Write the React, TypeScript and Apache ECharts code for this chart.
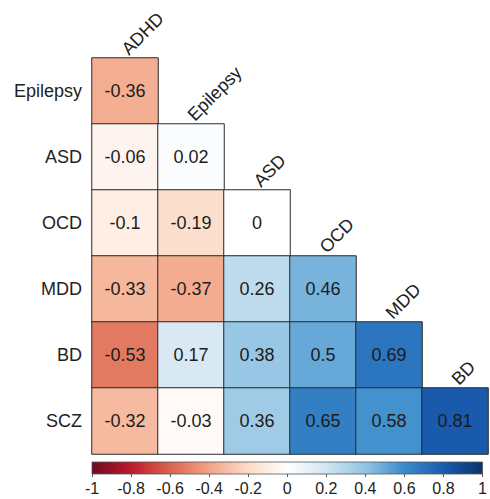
import React, { useEffect, useRef } from "react";
import * as echarts from "echarts";

const rowLabels = ["Epilepsy", "ASD", "OCD", "MDD", "BD", "SCZ"];
const colLabels = ["ADHD", "Epilepsy", "ASD", "OCD", "MDD", "BD"];

const rowEpilepsy = [-0.36];
const rowASD = [-0.06, 0.02];
const rowOCD = [-0.1, -0.19, 0];
const rowMDD = [-0.33, -0.37, 0.26, 0.46];
const rowBD = [-0.53, 0.17, 0.38, 0.5, 0.69];
const rowSCZ = [-0.32, -0.03, 0.36, 0.65, 0.58, 0.81];

const rowValues = [rowEpilepsy, rowASD, rowOCD, rowMDD, rowBD, rowSCZ];

const colorbarTicks = [-1, -0.8, -0.6, -0.4, -0.2, 0, 0.2, 0.4, 0.6, 0.8, 1];

const palette = [
  "#6b0a22",
  "#bc1a2e",
  "#da634f",
  "#f2a486",
  "#fcdcc9",
  "#ffffff",
  "#d2e5f2",
  "#92c4e3",
  "#3a8bcb",
  "#1a5cb0",
  "#0a3266",
];

const FONT = "'Liberation Sans', Arial, Helvetica, sans-serif";

export default function App() {
  const ref = useRef<HTMLDivElement>(null);

  useEffect(() => {
    if (!ref.current) return;
    const chart = echarts.init(ref.current, undefined, { renderer: "svg" });

    const heatData: any[] = [];
    rowValues.forEach((vals, r) => {
      vals.forEach((v, c) => {
        heatData.push([c, r, v]);
      });
    });

    const gradientStops = palette.map((color, i) => ({
      offset: i / (palette.length - 1),
      color,
    }));

    chart.setOption({
      animation: false,
      textStyle: { fontFamily: FONT },
      grid: [
        { left: 92, top: 58, width: 396, height: 396 },
        { left: 92, top: 462, width: 397, height: 12 },
      ],
      xAxis: [
        {
          type: "category",
          gridIndex: 0,
          data: colLabels,
          axisLine: { show: false },
          axisTick: { show: false },
          axisLabel: { show: false },
          splitLine: { show: false },
        },
        {
          type: "value",
          gridIndex: 1,
          min: -1,
          max: 1,
          interval: 0.2,
          axisLine: { show: false },
          axisTick: {
            show: true,
            length: 3,
            lineStyle: { color: "#555", width: 1 },
          },
          splitLine: { show: false },
          axisLabel: {
            fontSize: 16,
            color: "#222",
            margin: 6,
            fontFamily: FONT,
            formatter: (v: number) => {
              const t = colorbarTicks.find((x) => Math.abs(x - v) < 1e-6);
              return t === undefined ? "" : String(t);
            },
          },
        },
      ],
      yAxis: [
        {
          type: "category",
          gridIndex: 0,
          data: rowLabels,
          inverse: true,
          axisLine: { show: false },
          axisTick: { show: false },
          splitLine: { show: false },
          axisLabel: {
            fontSize: 18,
            color: "#222",
            margin: 10,
            fontFamily: FONT,
          },
        },
        {
          type: "value",
          gridIndex: 1,
          min: 0,
          max: 1,
          show: false,
        },
      ],
      visualMap: {
        show: false,
        type: "continuous",
        min: -1,
        max: 1,
        seriesIndex: 0,
        dimension: 2,
        inRange: { color: palette },
      },
      series: [
        {
          type: "heatmap",
          xAxisIndex: 0,
          yAxisIndex: 0,
          data: heatData,
          itemStyle: { borderColor: "#2a2a2a", borderWidth: 1 },
          label: {
            show: true,
            fontSize: 18,
            color: "#1c1c1c",
            fontFamily: FONT,
            formatter: (p: any) => String(p.value[2]),
          },
          emphasis: { disabled: true },
        },
        {
          type: "custom",
          xAxisIndex: 1,
          yAxisIndex: 1,
          data: [[-1, 1]],
          silent: true,
          renderItem: (params: any, api: any) => {
            const p0 = api.coord([api.value(0), 1]);
            const p1 = api.coord([api.value(1), 0]);
            return {
              type: "rect",
              shape: { x: p0[0], y: p0[1], width: p1[0] - p0[0], height: p1[1] - p0[1] },
              style: {
                fill: new echarts.graphic.LinearGradient(0, 0, 1, 0, gradientStops),
                stroke: "#555",
                lineWidth: 0.8,
              },
            };
          },
        },
      ],
    });

    // Column labels placed at the top of each diagonal cell
    const graphics: any[] = [];
    colLabels.forEach((name, j) => {
      const c = chart.convertToPixel({ gridIndex: 0 }, [j, j]) as number[];
      const c2 = chart.convertToPixel({ gridIndex: 0 }, [j, j + 1 < rowLabels.length ? j + 1 : j - 1]) as number[];
      const cellH = Math.abs(c2[1] - c[1]);
      const top = c[1] - cellH / 2;
      graphics.push({
        type: "text",
        x: c[0] + 6,
        y: top,
        rotation: Math.PI / 4,
        style: {
          text: name,
          fontSize: 18,
          fontFamily: FONT,
          fill: "#222",
          align: "left",
          verticalAlign: "bottom",
        },
      });
    });
    chart.setOption({ graphic: graphics });

    return () => chart.dispose();
  }, []);

  return (
    <div
      ref={ref}
      style={{ position: "absolute", left: 0, top: 0, width: 490, height: 499 }}
    />
  );
}
